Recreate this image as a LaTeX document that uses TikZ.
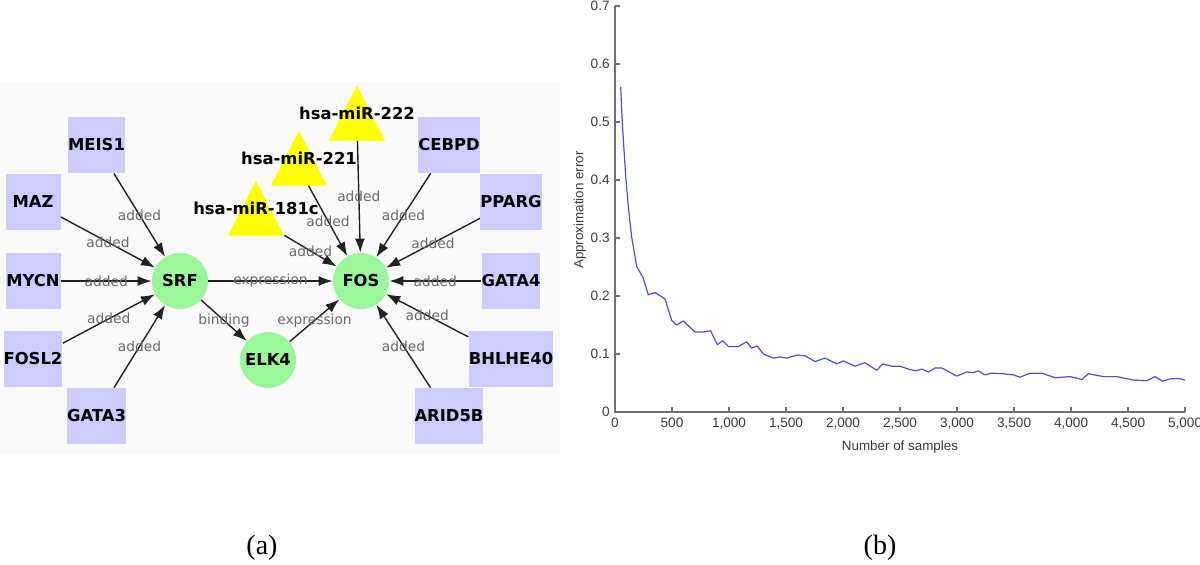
\documentclass[tikz,border=0pt]{standalone}
\usepackage{fontspec}
\setmainfont{Liberation Serif}
\newfontfamily\netfont{DejaVu Sans}
\newfontfamily\plotfont{Liberation Sans}
\usepackage{tikz}
\usetikzlibrary{arrows.meta,shapes.geometric}
\definecolor{boxblue}{HTML}{CCCCFF}
\definecolor{hubgreen}{HTML}{99F799}
\definecolor{miryellow}{HTML}{FFFF00}
\definecolor{edgegray}{HTML}{222222}
\definecolor{labgray}{HTML}{6A6A6A}
\definecolor{axgray}{HTML}{707070}
\definecolor{tickgray}{HTML}{3A3A3A}
\definecolor{curveblue}{HTML}{4C4CE8}
\definecolor{panelgray}{HTML}{FAFAFA}

\begin{document}
\begin{tikzpicture}[x=0.5pt, y=-0.5pt,
  genebox/.style={fill=boxblue, minimum width=27.5pt, minimum height=28pt, inner sep=0pt, font=\netfont\bfseries\fontsize{8.2}{9}\selectfont},
  hubnode/.style={circle, fill=hubgreen, minimum size=28pt, inner sep=0pt, font=\netfont\bfseries\fontsize{8.2}{9}\selectfont},
  mirtri/.style={isosceles triangle, shape border rotate=90, isosceles triangle stretches, fill=miryellow, minimum width=28pt, minimum height=27.5pt, inner sep=0pt, anchor=south},
  mirlab/.style={font=\netfont\bfseries\fontsize{8.2}{9}\selectfont, inner sep=0pt},
  edgearr/.style={-{Latex[length=7pt,width=5pt]}, edgegray, line width=0.7pt},
  elabel/.style={font=\netfont\fontsize{6.9}{8}\selectfont, text=labgray, inner sep=0pt},
  ticklab/.style={font=\plotfont\fontsize{6.8}{8}\selectfont, text=tickgray, inner sep=0pt},
  axlab/.style={font=\plotfont\fontsize{6.7}{8}\selectfont, text=tickgray, inner sep=0pt},
  curve/.style={curveblue, line width=0.6pt, line join=round},
]
\useasboundingbox (0,0) rectangle (1200,564);

% (a) network panel
\fill[panelgray] (0,82) rectangle (560,455);

% left side regulators of SRF
\node[genebox] (meis1) at (96.5,145) {MEIS1};
\node[genebox] (maz)   at (33,202)   {MAZ};
\node[genebox] (mycn)  at (33,281)   {MYCN};
\node[genebox] (fosl2) at (33,359)   {FOSL2};
\node[genebox] (gata3) at (96.5,416) {GATA3};

% central genes
\node[hubnode] (srf)  at (180,281) {SRF};
\node[hubnode] (elk4) at (268,360) {ELK4};
\node[hubnode] (fos)  at (361,281) {FOS};

% right side regulators of FOS
\node[genebox] (cebpd)   at (449,145) {CEBPD};
\node[genebox] (pparg)   at (511,202) {PPARG};
\node[genebox] (gata4)   at (511,281) {GATA4};
\node[genebox] (bhlhe40) at (511,359) {BHLHE40};
\node[genebox] (arid5b)  at (449,416) {ARID5B};

% microRNAs (triangle sits on its base, name on top)
\node[mirtri] (mir181c) at (256,236) {};
\node[mirtri] (mir221)  at (299,186) {};
\node[mirtri] (mir222)  at (357,141) {};
\node[mirlab] (lab181c) at (256,208) {hsa-miR-181c};
\node[mirlab] (lab221)  at (299,158) {hsa-miR-221};
\node[mirlab] (lab222)  at (357,113) {hsa-miR-222};

% edges
\foreach \src in {meis1,maz,mycn,fosl2,gata3}
  \draw[edgearr] (\src) -- node[elabel]{added} (srf);
\foreach \src in {cebpd,pparg,gata4,bhlhe40,arid5b,mir181c,mir221,mir222}
  \draw[edgearr] (\src) -- node[elabel]{added} (fos);
\draw[edgearr] (srf) -- node[elabel]{expression} (fos);
\draw[edgearr] (srf) -- node[elabel]{binding} (elk4);
\draw[edgearr] (elk4) -- node[elabel]{expression} (fos);

% (b) error curve
\coordinate (origin) at (615,412);
\begin{scope}[shift={(origin)}, x=0.057pt, y=290pt]
  \draw[axgray, line width=0.9pt] (0,0.7) -- (0,0) -- (5000,0);
  \foreach \v in {0,0.1,0.2,0.3,0.4,0.5,0.6,0.7} {
    \draw[axgray, line width=0.6pt] (0,\v) -- ++(2.5pt,0);
    \node[ticklab, anchor=east] at ([xshift=-2.5pt]0,\v) {\v};
  }
  \foreach \v/\t in {0/0,500/500,1000/{1,000},1500/{1,500},2000/{2,000},2500/{2,500},3000/{3,000},3500/{3,500},4000/{4,000},4500/{4,500},5000/{5,000}} {
    \draw[axgray, line width=0.6pt] (\v,0) -- ++(0,2.5pt);
    \node[ticklab, anchor=north] at ([yshift=-3pt]\v,0) {\t};
  }
  \draw[curve] plot coordinates {
    (50,0.560) (64,0.498) (94,0.406) (117,0.354) (146,0.302) (190,0.251)
    (248,0.231) (292,0.202) (351,0.206) (439,0.195) (497,0.158) (541,0.150)
    (599,0.157) (702,0.138) (775,0.138) (839,0.140) (897,0.116) (945,0.123)
    (994,0.113) (1082,0.113) (1155,0.121) (1199,0.110) (1248,0.114) (1301,0.100)
    (1389,0.093) (1447,0.095) (1506,0.093) (1594,0.098) (1667,0.097) (1754,0.087)
    (1842,0.093) (1945,0.083) (2003,0.088) (2105,0.079) (2193,0.085) (2296,0.072)
    (2348,0.083) (2427,0.079) (2500,0.079) (2573,0.074) (2640,0.071) (2690,0.074)
    (2748,0.069) (2807,0.076) (2866,0.076) (2997,0.062) (3085,0.069) (3143,0.068)
    (3187,0.071) (3246,0.064) (3304,0.067) (3406,0.066) (3494,0.064) (3553,0.060)
    (3640,0.067) (3743,0.067) (3860,0.059) (3991,0.061) (4094,0.056) (4152,0.066)
    (4284,0.061) (4401,0.061) (4547,0.055) (4664,0.054) (4737,0.061) (4804,0.053)
    (4868,0.057) (4941,0.058) (5000,0.055)};
\end{scope}
\node[axlab, rotate=90] (ylab) at (580,210) {Approximation error};
\node[axlab] (xlab) at (900,447) {Number of samples};

% captions
\node[font=\fontsize{14}{16}\selectfont] (capa) at (262,548) {(a)};
\node[font=\fontsize{14}{16}\selectfont] (capb) at (880,548) {(b)};
\end{tikzpicture}
\end{document}
